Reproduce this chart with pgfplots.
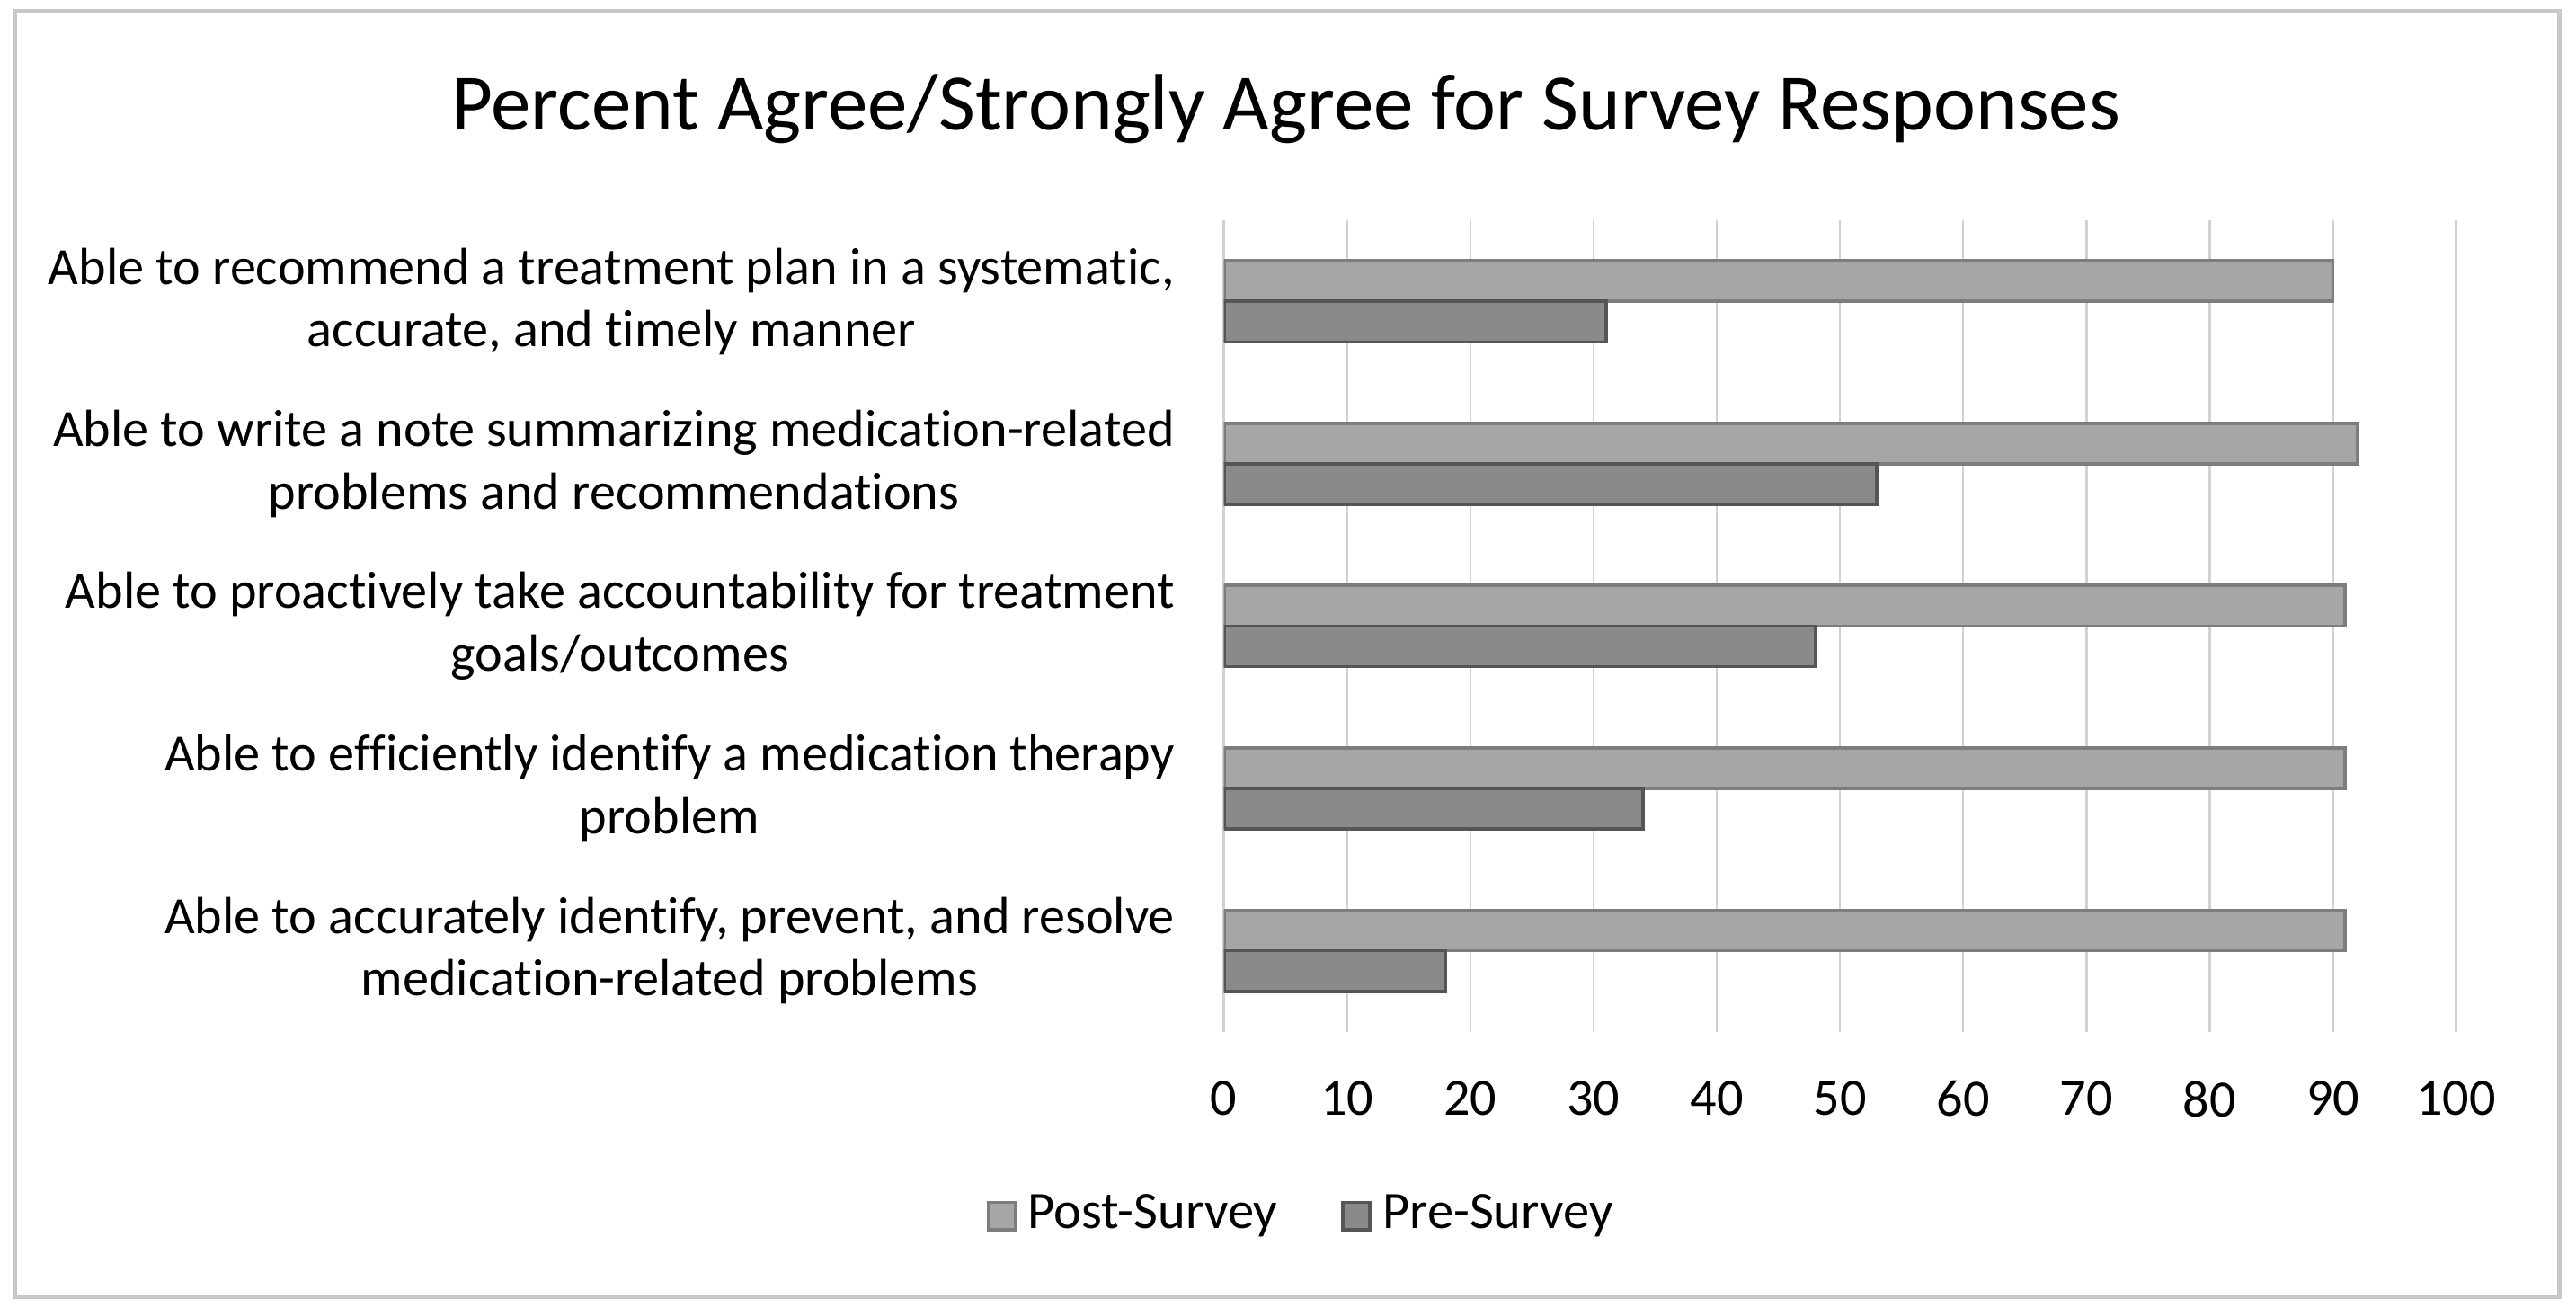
\documentclass[border=0pt]{standalone}
\usepackage{fontspec}
\setmainfont{Carlito}[Ligatures=NoCommon]
\usepackage{pgfplots}
\pgfplotsset{compat=1.18}
\definecolor{postfill}{RGB}{166,166,166}
\definecolor{postedge}{RGB}{125,125,125}
\definecolor{prefill}{RGB}{138,138,138}
\definecolor{preedge}{RGB}{85,85,85}
\definecolor{gridgray}{RGB}{210,210,210}
\definecolor{framegray}{RGB}{200,200,200}

\begin{document}
\begin{tikzpicture}
    \useasboundingbox (-223.5pt,-50.4pt) rectangle (246.9pt,188.4pt);
    \draw[framegray, line width=0.8pt] (-220.8pt,-48.3pt) rectangle (243.9pt,186.3pt);
    \begin{axis}[
            at={(0pt,0pt)}, anchor=south west,
            scale only axis,
            width=225pt,
            height=148.2pt,
            xbar,
            bar width=0.25,
            xmin=0, xmax=100,
            ymin=0.5, ymax=5.5,
            xtick={0,10,...,100},
            ytick={1,2,3,4,5},
            yticklabels={
                    {Able to accurately identify, prevent, and resolve\\medication-related problems},
                    {Able to efficiently identify a medication therapy\\problem},
                    {Able to proactively take accountability for treatment\\goals/outcomes},
                    {Able to write a note summarizing medication-related\\problems and recommendations},
                    {Able to recommend a treatment plan in a systematic,\\accurate, and timely manner}
                },
            axis x line=bottom,
            axis y line=left,
            axis line style={-},
            x axis line style={draw=none},
            y axis line style={draw=gridgray, line width=0.5pt},
            xmajorgrids,
            grid style={gridgray, line width=0.4pt},
            major tick length=0pt,
            /pgf/number format/assume math mode=true,
            ticklabel style={font=\fontsize{9.55}{11.4}\selectfont},
            yticklabel style={align=center, xshift=-5.5pt},
            xticklabel style={yshift=-5.4pt},
            legend style={
                    at={(0.066,-0.2267)}, anchor=center,
                    draw=none,
                    font=\fontsize{9.6}{11.4}\selectfont,
                    legend columns=2,
                    /tikz/every even column/.append style={column sep=9.6pt},
                },
            legend image code/.code={
                    \draw[#1] (0pt,-2.5pt) rectangle (5pt,2.5pt);
                },
        ]
        \addplot[fill=postfill, draw=postedge, line width=0.6pt, bar shift=0.125]
        coordinates {
                (91,1)
                (91,2)
                (91,3)
                (92,4)
                (90,5)
            };
        \addplot[fill=prefill, draw=preedge, line width=0.6pt, bar shift=-0.125]
        coordinates {
                (18,1)
                (34,2)
                (48,3)
                (53,4)
                (31,5)
            };
        \legend{Post-Survey, Pre-Survey}
    \end{axis}
    \node[anchor=base, font=\fontsize{14.6}{17}\selectfont] at (11.25pt,164.7pt)
        {Percent Agree/Strongly Agree for Survey Responses};
\end{tikzpicture}
\end{document}
